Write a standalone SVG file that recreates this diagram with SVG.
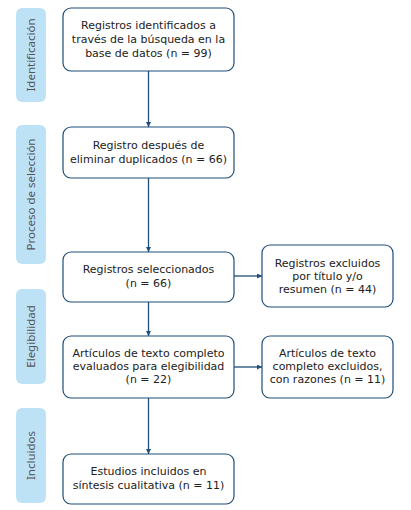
<svg xmlns="http://www.w3.org/2000/svg" width="411" height="510" viewBox="0 0 411 510">
<defs>
<marker id="ah" viewBox="0 0 10 10" refX="10" refY="5" markerWidth="5" markerHeight="5" orient="auto" markerUnits="userSpaceOnUse">
<path d="M0,0 L10,5 L0,10 z" fill="#1f4e79"/>
</marker>
<style>
.box{fill:#fff;stroke:#1f4e79;stroke-width:1.2}
.phase{fill:#bde2f6}
.t{font-family:"DejaVu Sans","Noto Sans",sans-serif;font-size:11px;fill:#222;text-anchor:middle}
.pt{font-family:"Noto Sans","Open Sans",sans-serif;font-size:11.5px;fill:#555;text-anchor:middle}
.c{stroke:#1f4e79;stroke-width:1.3;fill:none;marker-end:url(#ah)}
</style>
</defs>
<rect width="411" height="510" fill="#fff"/>
<g id="phase-identificacion"><rect class="phase" x="16" y="8" width="30" height="94" rx="6"/><text class="pt" transform="translate(35,55) rotate(-90)">Identificación</text></g>
<g id="phase-seleccion"><rect class="phase" x="16" y="125" width="30" height="139" rx="6"/><text class="pt" transform="translate(35,194.5) rotate(-90)">Proceso de selección</text></g>
<g id="phase-elegibilidad"><rect class="phase" x="16" y="289" width="30" height="95" rx="6"/><text class="pt" transform="translate(35,336.5) rotate(-90)">Elegibilidad</text></g>
<g id="phase-incluidos"><rect class="phase" x="16" y="408" width="30" height="95" rx="6"/><text class="pt" transform="translate(35,455.5) rotate(-90)">Incluidos</text></g>

<g id="n1"><rect class="box" x="63" y="8" width="171" height="63" rx="8"/>
<text class="t" x="148.5" y="29">Registros identificados a</text>
<text class="t" x="148.5" y="43">través de la búsqueda en la</text>
<text class="t" x="148.5" y="57">base de datos (n = 99)</text></g>
<g id="n2"><rect class="box" x="63" y="127" width="171" height="51" rx="8"/>
<text class="t" x="148.5" y="149">Registro después de</text>
<text class="t" x="148.5" y="162.5">eliminar duplicados (n = 66)</text></g>
<g id="n3"><rect class="box" x="63" y="252" width="171" height="50" rx="8"/>
<text class="t" x="148.5" y="273">Registros seleccionados</text>
<text class="t" x="148.5" y="286.5">(n = 66)</text></g>
<g id="n4"><rect class="box" x="262" y="245" width="131" height="62" rx="8"/>
<text class="t" x="327.5" y="267">Registros excluidos</text>
<text class="t" x="327.5" y="280">por título y/o</text>
<text class="t" x="327.5" y="293">resumen (n = 44)</text></g>
<g id="n5"><rect class="box" x="63" y="336" width="171" height="62" rx="8"/>
<text class="t" x="148.5" y="357">Artículos de texto completo</text>
<text class="t" x="148.5" y="370">evaluados para elegibilidad</text>
<text class="t" x="148.5" y="383">(n = 22)</text></g>
<g id="n6"><rect class="box" x="262" y="336" width="131" height="62" rx="8"/>
<text class="t" x="327.5" y="357">Artículos de texto</text>
<text class="t" x="327.5" y="370">completo excluidos,</text>
<text class="t" x="327.5" y="383">con razones (n = 11)</text></g>
<g id="n7"><rect class="box" x="63" y="454" width="171" height="50" rx="8"/>
<text class="t" x="148.5" y="475">Estudios incluidos en</text>
<text class="t" x="148.5" y="488.5">síntesis cualitativa (n = 11)</text></g>

<g id="connectors">
<line class="c" x1="148.5" y1="71" x2="148.5" y2="127"/>
<line class="c" x1="148.5" y1="178" x2="148.5" y2="252"/>
<line class="c" x1="148.5" y1="302" x2="148.5" y2="336"/>
<line class="c" x1="148.5" y1="398" x2="148.5" y2="454"/>
<line class="c" x1="234" y1="276" x2="262" y2="276"/>
<line class="c" x1="234" y1="367" x2="262" y2="367"/>
</g>
</svg>
